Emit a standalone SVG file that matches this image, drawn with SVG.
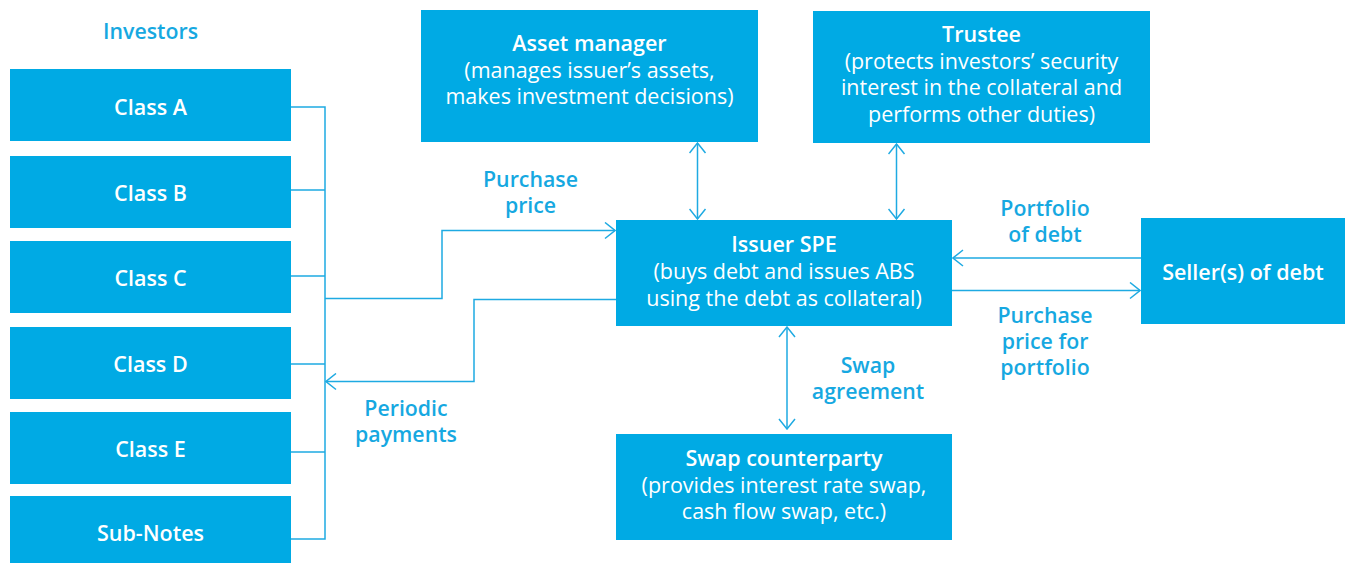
<svg xmlns="http://www.w3.org/2000/svg" width="1345" height="563" viewBox="0 0 1345 563">
<style>
.box{fill:#00AAE4}
.t{font-family:"Open Sans","Noto Sans","Liberation Sans",sans-serif;font-size:21.5px;text-anchor:middle}
.w{fill:#ffffff}
.h{font-weight:600}
.lbl{fill:#16A8E1;font-weight:600;font-size:21.3px}
.ln{fill:none;stroke:#1EAAE2;stroke-width:1.5}
</style>
<defs>
<marker id="ar" viewBox="0 0 12 18" refX="11" refY="9" markerWidth="12" markerHeight="18" markerUnits="userSpaceOnUse" orient="auto-start-reverse">
<path d="M1,1 L11,9 L1,17" fill="none" stroke="#1EAAE2" stroke-width="1.5"/>
</marker>
</defs>
<rect width="1345" height="563" fill="#ffffff"/>
<g id="investors-label"><text class="t lbl" x="150.5" y="39">Investors</text></g>
<g id="class-a"><rect class="box" x="10" y="69" width="281" height="72"/><text class="t w h" x="150.5" y="115">Class A</text></g>
<g id="class-b"><rect class="box" x="10" y="156" width="281" height="72"/><text class="t w h" x="150.5" y="201">Class B</text></g>
<g id="class-c"><rect class="box" x="10" y="241" width="281" height="72"/><text class="t w h" x="150.5" y="286">Class C</text></g>
<g id="class-d"><rect class="box" x="10" y="327" width="281" height="72"/><text class="t w h" x="150.5" y="371.5">Class D</text></g>
<g id="class-e"><rect class="box" x="10" y="412" width="281" height="72"/><text class="t w h" x="150.5" y="456.5">Class E</text></g>
<g id="sub-notes"><rect class="box" x="10" y="496" width="281" height="67"/><text class="t w h" x="150.5" y="540.5">Sub-Notes</text></g>
<g id="asset-manager"><rect class="box" x="421" y="10" width="337" height="132"/>
<text class="t w" x="589.5" y="51"><tspan class="h">Asset manager</tspan><tspan x="589.5" dy="26.5">(manages issuer’s assets,</tspan><tspan x="589.5" dy="26.5">makes investment decisions)</tspan></text></g>
<g id="trustee"><rect class="box" x="813" y="11" width="337" height="132"/>
<text class="t w" x="981.5" y="42"><tspan class="h">Trustee</tspan><tspan x="981.5" dy="26.5">(protects investors’ security</tspan><tspan x="981.5" dy="26.5">interest in the collateral and</tspan><tspan x="981.5" dy="26.5">performs other duties)</tspan></text></g>
<g id="issuer-spe"><rect class="box" x="616" y="220" width="336" height="106"/>
<text class="t w" x="784" y="251.5"><tspan class="h">Issuer SPE</tspan><tspan x="784" dy="27">(buys debt and issues ABS</tspan><tspan x="784" dy="27">using the debt as collateral)</tspan></text></g>
<g id="seller"><rect class="box" x="1141" y="218" width="204" height="106"/><text class="t w h" x="1243" y="280">Seller(s) of debt</text></g>
<g id="swap-counterparty"><rect class="box" x="616" y="434" width="336" height="106"/>
<text class="t w" x="784" y="465.5"><tspan class="h">Swap counterparty</tspan><tspan x="784" dy="27">(provides interest rate swap,</tspan><tspan x="784" dy="26.5">cash flow swap, etc.)</tspan></text></g>
<g id="connectors">
<path class="ln" d="M291,107 H325 V539 H291 M291,190 H325 M291,276 H325 M291,364 H325 M291,452 H325"/>
<path class="ln" d="M325,298.5 H442 V230.5 H615" marker-end="url(#ar)"/>
<path class="ln" d="M616,299.5 H474 V381.5 H326" marker-end="url(#ar)"/>
<path class="ln" d="M697.5,143 V219" marker-start="url(#ar)" marker-end="url(#ar)"/>
<path class="ln" d="M896.5,144 V219" marker-start="url(#ar)" marker-end="url(#ar)"/>
<path class="ln" d="M787,327 V429" marker-start="url(#ar)" marker-end="url(#ar)"/>
<path class="ln" d="M1141,258 H953" marker-end="url(#ar)"/>
<path class="ln" d="M952,290.5 H1140" marker-end="url(#ar)"/>
</g>
<g id="labels">
<text class="t lbl" x="530.5" y="186.5">Purchase<tspan x="530.5" dy="26">price</tspan></text>
<text class="t lbl" x="406" y="415.5">Periodic<tspan x="406" dy="26.5">payments</tspan></text>
<text class="t lbl" x="1045" y="215.5">Portfolio<tspan x="1045" dy="26.5">of debt</tspan></text>
<text class="t lbl" x="1045" y="323">Purchase<tspan x="1045" dy="26">price for</tspan><tspan x="1045" dy="26">portfolio</tspan></text>
<text class="t lbl" x="868" y="372.5">Swap<tspan x="868" dy="26.5">agreement</tspan></text>
</g>
</svg>
